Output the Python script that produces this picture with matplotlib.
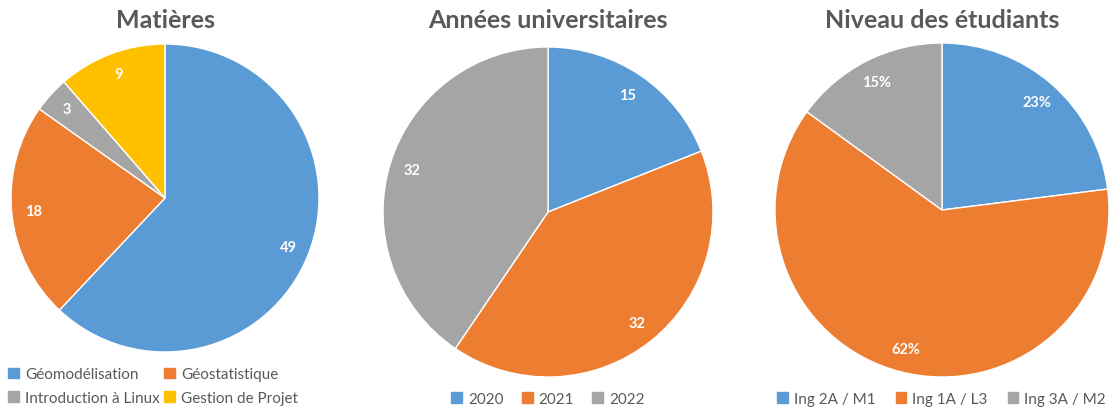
import matplotlib.pyplot as plt
from matplotlib.patches import Patch

plt.rcParams['font.family'] = ['Lato', 'DejaVu Sans']

# Data
matieres = ['Géomodélisation', 'Géostatistique', 'Introduction à Linux', 'Gestion de Projet']
matieres_vals = [49, 18, 3, 9]
annees = ['2020', '2021', '2022']
annees_vals = [15, 32, 32]
niveaux = ['Ing 2A / M1', 'Ing 1A / L3', 'Ing 3A / M2']
niveaux_vals = [23, 62, 15]

BLUE = '#5B9BD5'
ORANGE = '#ED7D31'
GRAY = '#A5A5A5'
YELLOW = '#FFC000'
TITLE_COL = '#595959'
TEXT_COL = '#595959'

W, H = 1112, 414
fig = plt.figure(figsize=(W / 100, H / 100), dpi=100)


def px_axes(cx, cy, r):
    # cx, cy in pixels from top-left
    return fig.add_axes([(cx - r) / W, (H - cy - r) / H, 2 * r / W, 2 * r / H])


def draw_pie(ax, vals, colors, fmt):
    total = sum(vals)
    ax.pie(vals, colors=colors, startangle=90, counterclock=False,
           autopct=lambda p: fmt(p, total), pctdistance=0.86,
           wedgeprops=dict(edgecolor='white', linewidth=1),
           textprops=dict(color='white', fontsize=10.5, fontweight='bold'))
    ax.set_aspect('equal')
    ax.set_xlim(-1, 1)
    ax.set_ylim(-1, 1)


def count_fmt(p, total):
    return f'{p * total / 100:.0f}'


def pct_fmt(p, total):
    return f'{p:.0f}%'


ax1 = px_axes(165, 199, 154)
draw_pie(ax1, matieres_vals, [BLUE, ORANGE, GRAY, YELLOW], count_fmt)

ax2 = px_axes(548, 213, 165)
draw_pie(ax2, annees_vals, [BLUE, ORANGE, GRAY], count_fmt)

ax3 = px_axes(942, 211, 167)
draw_pie(ax3, niveaux_vals, [BLUE, ORANGE, GRAY], pct_fmt)

# Titles
for x, t in [(165, 'Matières'), (548, 'Années universitaires'), (942, 'Niveau des étudiants')]:
    fig.text(x / W, 1 - 20 / H, t, ha='center', va='center', fontsize=18,
             fontweight='bold', color=TITLE_COL)

# Legends
leg_kw = dict(frameon=False, handlelength=0.7, handleheight=0.7, handletextpad=0.4,
              fontsize=11, labelcolor=TEXT_COL, borderpad=0, borderaxespad=0)

# row-wise order for the 2-column legend
h1 = [Patch(color=c) for c in [BLUE, GRAY, ORANGE, YELLOW]]
lab1 = [matieres[0], matieres[2], matieres[1], matieres[3]]
fig.legend(h1, lab1, loc='center left', bbox_to_anchor=(8 / W, 1 - 387 / H),
           ncol=2, columnspacing=0.3, labelspacing=0.6, **leg_kw)

h2 = [Patch(color=c) for c in [BLUE, ORANGE, GRAY]]
fig.legend(h2, annees, loc='center', bbox_to_anchor=(548 / W, 1 - 400 / H),
           ncol=3, columnspacing=1.2, **leg_kw)

fig.legend(h2, niveaux, loc='center right', bbox_to_anchor=(1106 / W, 1 - 400 / H),
           ncol=3, columnspacing=1.3, **leg_kw)

fig.savefig('out.png', dpi=100)
